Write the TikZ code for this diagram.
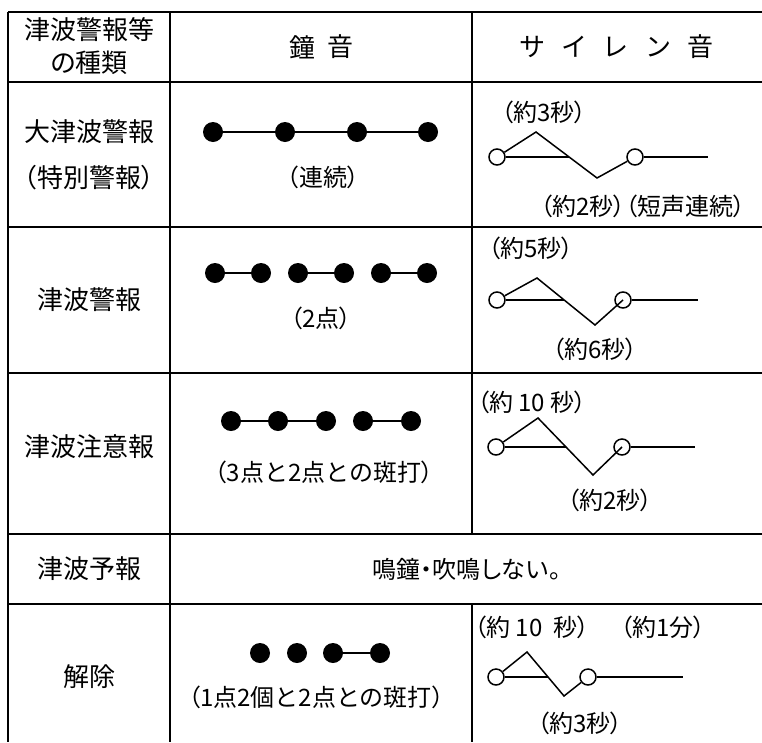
\documentclass[tikz,border=0pt]{standalone}
\usepackage{fontspec}
\setmainfont{Noto Sans CJK JP}[RawFeature=+palt]
\newfontfamily\jpfull{Noto Sans CJK JP}
\begin{document}
\begin{tikzpicture}[x=1pt,y=-1pt,
  gridline/.style={line width=2.2pt},
  lbl/.style={inner sep=0pt, font=\fontsize{24}{28}\selectfont},
  big/.style={inner sep=0pt, font=\fontsize{26}{32}\selectfont},
  dot/.style={circle, fill=black, inner sep=0pt, minimum size=20pt},
  ring/.style={circle, draw, line width=1.5pt, inner sep=0pt, minimum size=16pt},
  wire/.style={line width=1.5pt}]
\useasboundingbox (0,0) rectangle (762,742);
% table grid
\draw[gridline] (8,12) -- (762,12);
\draw[gridline] (8,82) -- (762,82);
\draw[gridline] (8,227) -- (762,227);
\draw[gridline] (8,373) -- (762,373);
\draw[gridline] (8,534) -- (762,534);
\draw[gridline] (8,604) -- (762,604);
\draw[gridline] (8,12) -- (8,742);
\draw[gridline] (170,12) -- (170,742);
\draw[gridline] (472,12) -- (472,534);
\draw[gridline] (472,604) -- (472,742);
% header
\node[big] (h1a) at (89,30) {津波警報等};
\node[big] (h1b) at (89,63) {の種類};
\node[big] (h2a) at (302,47) {鐘};
\node[big] (h2b) at (340,47) {音};
\node[big] (h3a) at (532,47) {サ};
\node[big] (h3b) at (574,47) {イ};
\node[big] (h3c) at (616,47) {レ};
\node[big] (h3d) at (658,47) {ン};
\node[big] (h3e) at (700,47) {音};
% column 1
\node[big] (k1a) at (89,132) {大津波警報};
\node[big] (k1b) at (89,178) {（特別警報）};
\node[big] (k2) at (89,300) {津波警報};
\node[big] (k3) at (89,447) {津波注意報};
\node[big] (k4) at (89,569) {津波予報};
\node[big] (k5) at (89,677) {解除};
% column 2 : bells
\node[dot] (a1) at (213,132) {};
\node[dot] (a2) at (285,132) {};
\node[dot] (a3) at (357,132) {};
\node[dot] (a4) at (428,132) {};
\draw[wire] (a1) -- (a2) -- (a3) -- (a4);
\node[lbl] (at) at (323,177) {（連続）};
\node[dot] (b1) at (215,273) {};
\node[dot] (b2) at (261,273) {};
\node[dot] (b3) at (298,273) {};
\node[dot] (b4) at (344,273) {};
\node[dot] (b5) at (381,273) {};
\node[dot] (b6) at (427,273) {};
\draw[wire] (b1) -- (b2);
\draw[wire] (b3) -- (b4);
\draw[wire] (b5) -- (b6);
\node[lbl] (bt) at (321,318) {（2点）};
\node[dot] (c1) at (231,421) {};
\node[dot] (c2) at (278,421) {};
\node[dot] (c3) at (326,421) {};
\node[dot] (c4) at (363,421) {};
\node[dot] (c5) at (411,421) {};
\draw[wire] (c1) -- (c2) -- (c3);
\draw[wire] (c4) -- (c5);
\node[lbl] (ct) at (324,472) {（3点{\jpfull と}2点{\jpfull との}斑打）};
\node[lbl] (dt) at (467,569) {鳴鐘・吹鳴し{\jpfull ない}。};
\node[dot] (e1) at (260,653) {};
\node[dot] (e2) at (297,653) {};
\node[dot] (e3) at (333,653) {};
\node[dot] (e4) at (380,653) {};
\draw[wire] (e3) -- (e4);
\node[lbl] (et) at (316,697) {（1点2個{\jpfull と}2点{\jpfull との}斑打）};
% column 3 : sirens
% row 1
\node[lbl] (s1t) at (544,112) {（約3秒）};
\node[ring] (s1a) at (497,157) {};
\node[ring] (s1b) at (635,157) {};
\coordinate (s1p) at (536,132);
\coordinate (s1q) at (597,178);
\coordinate (s1x) at (569,157);
\coordinate (s1e) at (708,157);
\draw[wire] (s1a) -- (s1p) -- (s1q) -- (s1b);
\draw[wire] (s1a.east) -- (s1x);
\draw[wire] (s1b.east) -- (s1e);
\node[lbl] (s1u) at (643,206) {（約2秒）（短声連続）};
% row 2
\node[lbl] (s2t) at (531,248) {（約5秒）};
\node[ring] (s2a) at (497,300) {};
\node[ring] (s2b) at (623,300) {};
\coordinate (s2p) at (537,278);
\coordinate (s2q) at (595,325);
\coordinate (s2x) at (564,300);
\coordinate (s2e) at (698,300);
\draw[wire] (s2a) -- (s2p) -- (s2q) -- (s2b.center);
\draw[wire] (s2a.east) -- (s2x);
\draw[wire] (s2b.east) -- (s2e);
\node[lbl] (s2u) at (595,349) {（約6秒）};
% row 3
\node[lbl] (s3t) at (532,402) {（約 10 秒）};
\node[ring] (s3a) at (496,447) {};
\node[ring] (s3b) at (622,447) {};
\coordinate (s3p) at (538,418);
\coordinate (s3q) at (593,475);
\coordinate (s3x) at (566,447);
\coordinate (s3e) at (695,447);
\draw[wire] (s3a) -- (s3p) -- (s3q) -- (s3b.center);
\draw[wire] (s3a.east) -- (s3x);
\draw[wire] (s3b.east) -- (s3e);
\node[lbl] (s3u) at (610,500) {（約2秒）};
% row 5
\node[lbl] (s5t) at (532,627) {（約 10\ \ 秒）};
\node[lbl] (s5m) at (663,627) {（約1分）};
\node[ring] (s5a) at (496,677) {};
\node[ring] (s5b) at (588,677) {};
\coordinate (s5p) at (527,652);
\coordinate (s5q) at (564,696);
\coordinate (s5x) at (548,677);
\coordinate (s5e) at (683,677);
\draw[wire] (s5a) -- (s5p) -- (s5q) -- (s5b);
\draw[wire] (s5a.east) -- (s5x);
\draw[wire] (s5b.east) -- (s5e);
\node[lbl] (s5u) at (580,723) {（約3秒）};
\end{tikzpicture}
\end{document}
